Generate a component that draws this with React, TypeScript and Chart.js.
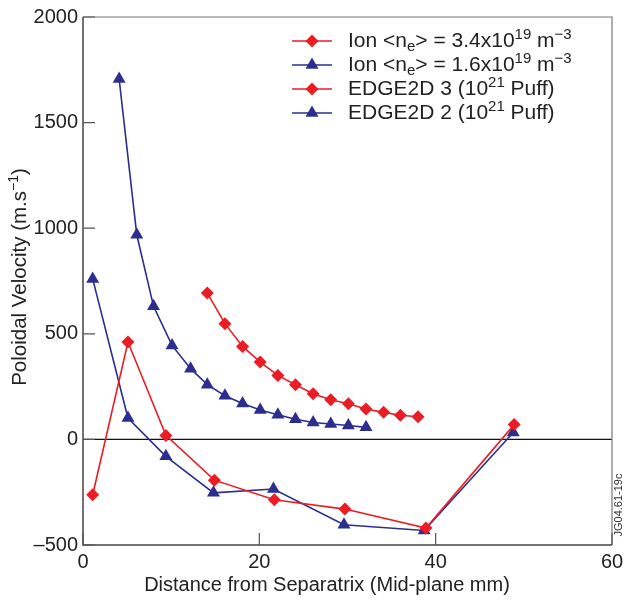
import React, { useEffect, useRef } from "react";
import { Chart, registerables } from "chart.js";
Chart.register(...registerables);

const xTicks = [0, 20, 40, 60];
const yTicks = [-500, 0, 500, 1000, 1500, 2000];

const ionHighX = [14.1, 16.1, 18.1, 20.1, 22.1, 24.1, 26.1, 28.1, 30.1, 32.1, 34.1, 36.0, 38.0];
const ionHighY = [693, 548, 440, 366, 303, 259, 216, 188, 169, 144, 128, 114, 107];

const ionLowX = [4.1, 6.1, 8.0, 10.1, 12.2, 14.1, 16.1, 18.1, 20.1, 22.1, 24.1, 26.1, 28.1, 30.1, 32.1];
const ionLowY = [1706, 969, 630, 445, 335, 259, 207, 170, 139, 117, 95, 80, 73, 66, 57];

const edge3X = [1.1, 5.1, 9.4, 14.9, 21.7, 29.7, 38.9, 48.9];
const edge3Y = [-262, 461, 19, -193, -286, -330, -420, 70];

const edge2X = [1.1, 5.1, 9.4, 14.8, 21.6, 29.6, 38.7, 48.8];
const edge2Y = [760, 101, -80, -253, -235, -404, -431, 33];

const RED = "#EC1C24";
const BLUE = "#2B2E8E";
const FONT = "'Liberation Sans', Arial, Helvetica, sans-serif";

type Seg = { t: string; m?: "sup" | "sub" };

const legendItems: { color: string; style: string; segs: Seg[] }[] = [
  {
    color: RED,
    style: "rectRot",
    segs: [{ t: "Ion <n" }, { t: "e", m: "sub" }, { t: "> = 3.4x10" }, { t: "19", m: "sup" }, { t: " m" }, { t: "\u22123", m: "sup" }],
  },
  {
    color: BLUE,
    style: "triangle",
    segs: [{ t: "Ion <n" }, { t: "e", m: "sub" }, { t: "> = 1.6x10" }, { t: "19", m: "sup" }, { t: " m" }, { t: "\u22123", m: "sup" }],
  },
  { color: RED, style: "rectRot", segs: [{ t: "EDGE2D 3 (10" }, { t: "21", m: "sup" }, { t: " Puff)" }] },
  { color: BLUE, style: "triangle", segs: [{ t: "EDGE2D 2 (10" }, { t: "21", m: "sup" }, { t: " Puff)" }] },
];

const xTitle = "Distance from Separatrix (Mid-plane mm)";
const yTitleSegs: Seg[] = [{ t: "Poloidal Velocity (m.s" }, { t: "\u22121", m: "sup" }, { t: ")" }];
const codeLabel = "JG04.61-19c";

function pts(xs: number[], ys: number[]) {
  return xs.map((x, i) => ({ x, y: ys[i] }));
}

function fmtTick(v: number) {
  return v < 0 ? "\u2013" + String(Math.abs(v)) : String(v);
}

function segFont(s: Seg, size: number) {
  return `${s.m ? Math.round(size * 0.7) : size}px ${FONT}`;
}

function richWidth(ctx: CanvasRenderingContext2D, segs: Seg[], size: number) {
  let w = 0;
  for (const s of segs) {
    ctx.font = segFont(s, size);
    w += ctx.measureText(s.t).width;
  }
  return w;
}

function drawRich(ctx: CanvasRenderingContext2D, x: number, y: number, segs: Seg[], size: number) {
  let cx = x;
  ctx.textBaseline = "middle";
  ctx.textAlign = "left";
  for (const s of segs) {
    ctx.font = segFont(s, size);
    const dy = s.m === "sup" ? -size * 0.3 : s.m === "sub" ? size * 0.28 : 0;
    ctx.fillText(s.t, cx, y + dy);
    cx += ctx.measureText(s.t).width;
  }
}

function drawMarker(ctx: CanvasRenderingContext2D, style: string, x: number, y: number, color: string) {
  ctx.fillStyle = color;
  ctx.beginPath();
  if (style === "rectRot") {
    const r = 6.5;
    ctx.moveTo(x, y - r);
    ctx.lineTo(x + r, y);
    ctx.lineTo(x, y + r);
    ctx.lineTo(x - r, y);
  } else {
    const r = 7.5;
    ctx.moveTo(x, y - r);
    ctx.lineTo(x + r * 0.866, y + r / 2);
    ctx.lineTo(x - r * 0.866, y + r / 2);
  }
  ctx.closePath();
  ctx.fill();
}

const decorPlugin = {
  id: "decor",
  beforeDatasetsDraw(chart: any) {
    const { ctx, chartArea: a, scales } = chart;
    const xs = scales.x;
    const ys = scales.y;
    ctx.save();
    const y0 = ys.getPixelForValue(0);
    ctx.strokeStyle = "#111";
    ctx.lineWidth = 1.2;
    ctx.beginPath();
    ctx.moveTo(a.left, y0);
    ctx.lineTo(a.right, y0);
    ctx.stroke();
    ctx.strokeStyle = "#777";
    ctx.lineWidth = 1.2;
    ctx.beginPath();
    ctx.moveTo(a.left, a.top);
    ctx.lineTo(a.right, a.top);
    ctx.lineTo(a.right, a.bottom);
    ctx.stroke();
    ctx.strokeStyle = "#444";
    ctx.lineWidth = 1.5;
    ctx.beginPath();
    ctx.moveTo(a.left, a.top);
    ctx.lineTo(a.left, a.bottom);
    ctx.lineTo(a.right, a.bottom);
    ctx.stroke();
    ctx.strokeStyle = "#555";
    ctx.lineWidth = 1.2;
    ctx.beginPath();
    for (const v of xTicks) {
      const px = xs.getPixelForValue(v);
      ctx.moveTo(px, a.bottom);
      ctx.lineTo(px, a.bottom - 12);
    }
    for (const v of yTicks) {
      const py = ys.getPixelForValue(v);
      ctx.moveTo(a.left, py);
      ctx.lineTo(a.left + 12, py);
    }
    ctx.stroke();
    ctx.restore();
  },
  afterDraw(chart: any) {
    const { ctx, chartArea: a } = chart;
    ctx.save();
    ctx.fillStyle = "#222";
    ctx.font = `20px ${FONT}`;
    ctx.textAlign = "center";
    ctx.textBaseline = "middle";
    ctx.fillText(xTitle, 327, 585);
    ctx.save();
    ctx.translate(20, 277);
    ctx.rotate(-Math.PI / 2);
    const w = richWidth(ctx, yTitleSegs, 20.5);
    drawRich(ctx, -w / 2, 0, yTitleSegs, 20.5);
    ctx.restore();
    ctx.save();
    ctx.translate(619, 505);
    ctx.rotate(-Math.PI / 2);
    ctx.font = `11px ${FONT}`;
    ctx.textAlign = "center";
    ctx.textBaseline = "middle";
    ctx.fillStyle = "#333";
    ctx.fillText(codeLabel, 0, 0);
    ctx.restore();
    const rows = [41, 65, 89, 113];
    legendItems.forEach((it, i) => {
      const y = rows[i];
      ctx.strokeStyle = it.color;
      ctx.lineWidth = 1.6;
      ctx.beginPath();
      ctx.moveTo(292, y);
      ctx.lineTo(332, y);
      ctx.stroke();
      drawMarker(ctx, it.style, 312, y, it.color);
      ctx.fillStyle = "#222";
      drawRich(ctx, 348, y, it.segs, 21);
    });
    ctx.restore();
  },
};

function ds(label: string, xs: number[], ys: number[], color: string, style: string) {
  return {
    label,
    data: pts(xs, ys),
    showLine: true,
    borderColor: color,
    backgroundColor: color,
    borderWidth: 1.6,
    pointStyle: style,
    pointRadius: style === "rectRot" ? 6.5 : 7.5,
    pointBorderWidth: 0,
    pointBackgroundColor: color,
    tension: 0,
  };
}

export default function App() {
  const ref = useRef<HTMLCanvasElement>(null);
  useEffect(() => {
    document.body.style.margin = "0";
    const chart = new Chart(ref.current as HTMLCanvasElement, {
      type: "scatter",
      data: {
        datasets: [
          ds("Ion 3.4", ionHighX, ionHighY, RED, "rectRot"),
          ds("Ion 1.6", ionLowX, ionLowY, BLUE, "triangle"),
          ds("EDGE2D 3", edge3X, edge3Y, RED, "rectRot"),
          ds("EDGE2D 2", edge2X, edge2Y, BLUE, "triangle"),
        ] as any,
      },
      options: {
        responsive: false,
        animation: false,
        devicePixelRatio: 1,
        layout: { padding: { top: 17, right: 12, left: 0, bottom: 0 } },
        plugins: { legend: { display: false }, tooltip: { enabled: false } },
        scales: {
          x: {
            type: "linear",
            min: 0,
            max: 60,
            afterBuildTicks: (s: any) => {
              s.ticks = xTicks.map((v) => ({ value: v }));
            },
            afterFit: (s: any) => {
              s.height = 57;
              s.paddingLeft = 0;
              s.paddingRight = 0;
            },
            grid: { display: false, drawTicks: false },
            border: { display: false },
            ticks: {
              font: { family: FONT, size: 20 },
              color: "#222",
              padding: 5,
              maxRotation: 0,
              autoSkip: false,
              callback: (v: any) => fmtTick(Number(v)),
            },
          },
          y: {
            type: "linear",
            min: -500,
            max: 2000,
            afterBuildTicks: (s: any) => {
              s.ticks = yTicks.map((v) => ({ value: v }));
            },
            afterFit: (s: any) => {
              s.width = 83;
              s.paddingTop = 0;
              s.paddingBottom = 0;
            },
            grid: { display: false, drawTicks: false },
            border: { display: false },
            ticks: {
              font: { family: FONT, size: 20 },
              color: "#222",
              padding: 5,
              autoSkip: false,
              callback: (v: any) => fmtTick(Number(v)),
            },
          },
        },
      } as any,
      plugins: [decorPlugin],
    });
    return () => chart.destroy();
  }, []);
  return (
    <div style={{ position: "absolute", left: 0, top: 0, width: 624, height: 602 }}>
      <canvas ref={ref} width={624} height={602} style={{ display: "block", width: 624, height: 602 }} />
    </div>
  );
}
